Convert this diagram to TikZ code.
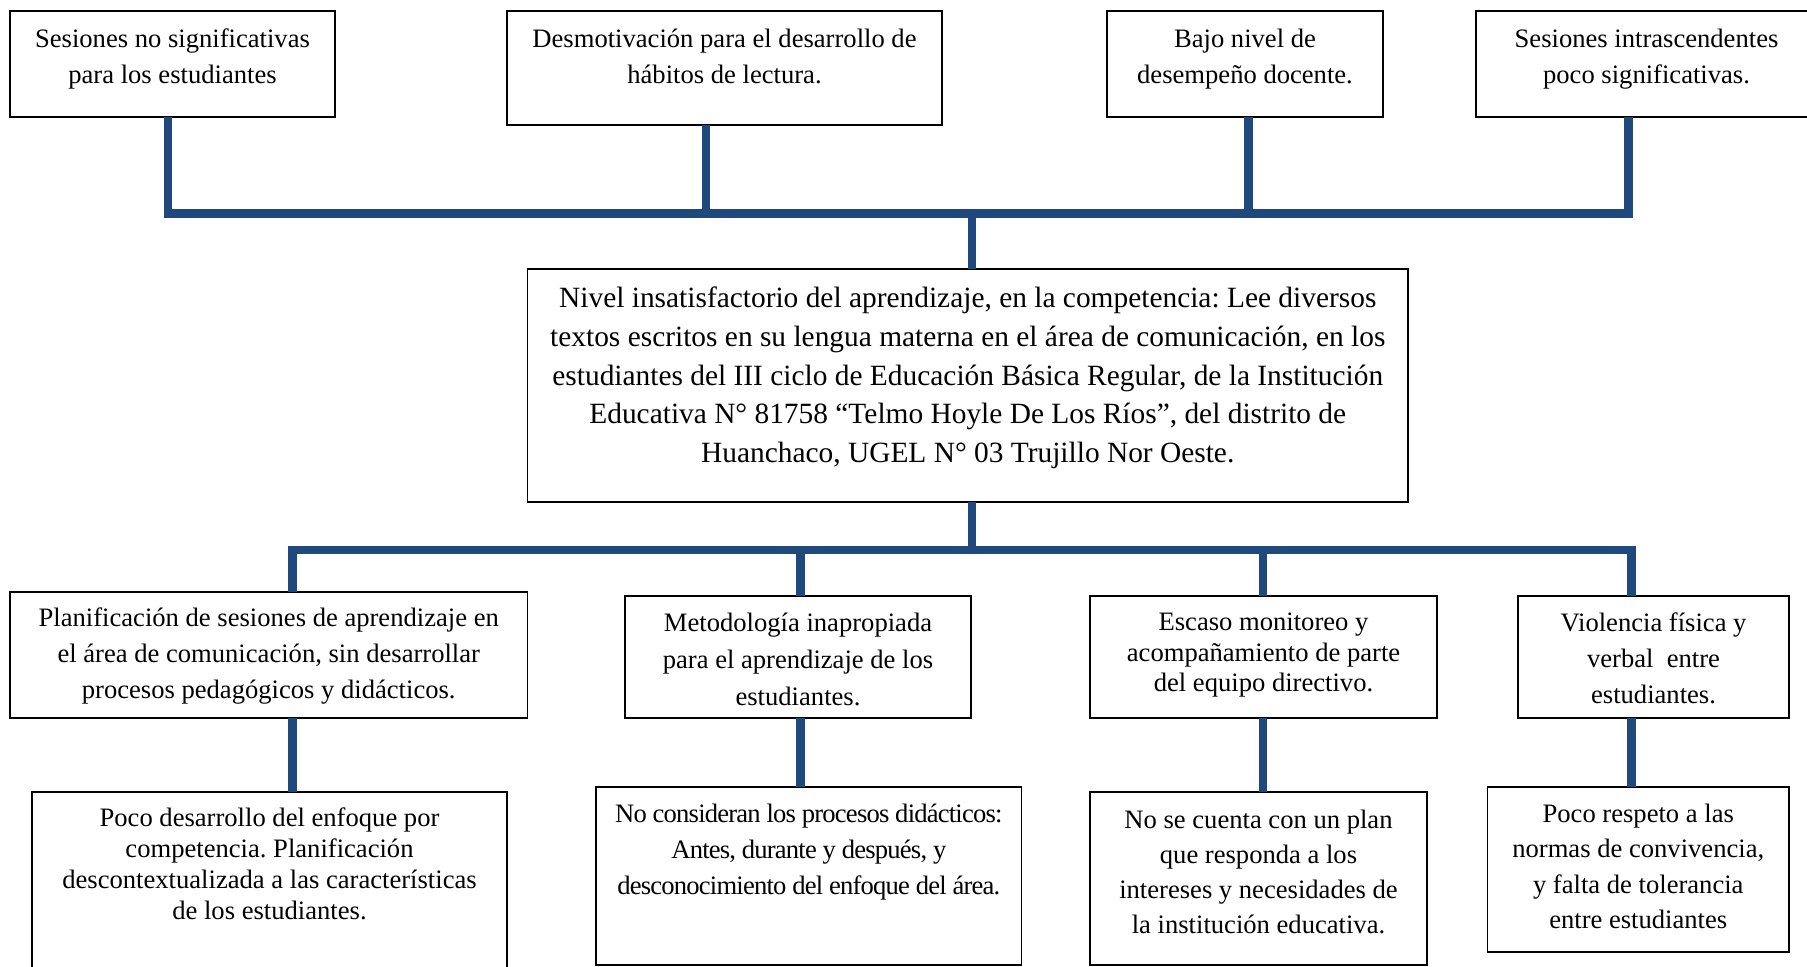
\documentclass[tikz,border=0pt]{standalone}
\usepackage{fontspec}
\setmainfont{Liberation Serif}
\definecolor{linkblue}{RGB}{31,73,125}
% #1 width, #2 height, #3 font size, #4 line spacing, #5 first baseline offset, #6 text
\newcommand\boxtxt[6]{\parbox[c][#2][t]{#1}{\frenchspacing\centering\fontsize{#3}{#4}\selectfont
  \vspace*{\dimexpr#5-\ht\strutbox\relax}\strut#6\par}}
\tikzset{
  bx/.style={draw=black, line width=0.6pt, inner sep=0pt, outer sep=0pt, anchor=north west, fill=white},
  conn/.style={draw=linkblue, line width=4.25pt, line join=miter},
}
\begin{document}
\begin{tikzpicture}[x=0.5pt, y=-0.5pt]
\useasboundingbox (0,0) rectangle (1807,967);

% top row
\node[bx] (T1) at (10,11) {\boxtxt{162.5pt}{53pt}{13.3}{18}{18.25pt}{Sesiones no significativas\\para los estudiantes}};
\node[bx] (T2) at (507,11) {\boxtxt{217.5pt}{57pt}{13.3}{18}{18.25pt}{Desmotivación para el desarrollo de\\hábitos de lectura.}};
\node[bx] (T3) at (1107,11) {\boxtxt{138pt}{53pt}{13.3}{18}{18.25pt}{Bajo nivel de\\desempeño docente.}};
\node[bx] (T4) at (1476,11) {\boxtxt{170.5pt}{53pt}{13.3}{18}{18.25pt}{Sesiones intrascendentes\\poco significativas.}};

% centre
\node[bx] (C) at (527.5,269) {\boxtxt{440.25pt}{116.5pt}{14.7}{19.4}{19.25pt}{Nivel insatisfactorio del aprendizaje, en la competencia: Lee diversos\\textos escritos en su lengua materna en el área de comunicación, en los\\estudiantes del III ciclo de Educación Básica Regular, de la Institución\\Educativa N° 81758 “Telmo Hoyle De Los Ríos”, del distrito de\\Huanchaco, UGEL N° 03 Trujillo Nor Oeste.}};

% lower row
\node[bx] (L1) at (10,592) {\boxtxt{258.75pt}{63pt}{13.3}{18}{17pt}{Planificación de sesiones de aprendizaje en\\el área de comunicación, sin desarrollar\\procesos pedagógicos y didácticos.}};
\node[bx] (L2) at (625,596) {\boxtxt{173pt}{61pt}{13.3}{18.5}{17.75pt}{Metodología inapropiada\\para el aprendizaje de los\\estudiantes.}};
\node[bx] (L3) at (1090,596) {\boxtxt{173.5pt}{61pt}{13.3}{15.35}{17.25pt}{Escaso monitoreo y\\acompañamiento de parte\\del equipo directivo.}};
\node[bx] (L4) at (1518,596) {\boxtxt{135.5pt}{61pt}{13.3}{18}{17.75pt}{Violencia física y\\verbal\ \ entre\\estudiantes.}};

% bottom row
\node[bx] (LL1) at (32,792) {\boxtxt{237.5pt}{90pt}{13.3}{15.5}{17.25pt}{Poco desarrollo del enfoque por\\competencia. Planificación\\descontextualizada a las características\\de los estudiantes.}};
\node[bx] (LL2) at (596,787) {\boxtxt{212.8pt}{89pt}{13.3}{18}{17.5pt}{\addfontfeatures{LetterSpace=-3}No consideran los procesos didácticos:\\Antes, durante y después, y\\desconocimiento del enfoque del área.}};
\node[bx] (LL3) at (1090,792) {\boxtxt{168.5pt}{86.5pt}{13.3}{17.6}{18pt}{No se cuenta con un plan\\que responda a los\\intereses y necesidades de\\la institución educativa.}};
\node[bx] (LL4) at (1487.5,787) {\boxtxt{150.75pt}{82.5pt}{13.3}{17.8}{17.5pt}{Poco respeto a las\\normas de convivencia,\\y falta de tolerancia\\entre estudiantes}};

% junction coordinates
\coordinate (j1) at (168,213.5);
\coordinate (j2) at (706,213.5);
\coordinate (j3) at (1248.5,213.5);
\coordinate (j4) at (1628.5,213.5);
\coordinate (jc) at (972,213.5);
\coordinate (kc) at (972,550);
\coordinate (k1) at (292.5,550);
\coordinate (k2) at (800.5,550);
\coordinate (k3) at (1263,550);
\coordinate (k4) at (1631.5,550);

% upper connectors
\draw[conn] (T1.south -| j1) -- (j1) -- (j4) -- (T4.south -| j4);
\draw[conn] (T2.south -| j2) -- (j2);
\draw[conn] (T3.south -| j3) -- (j3);
\draw[conn] (jc) -- (C.north -| jc);

% lower connectors
\draw[conn] (C.south -| kc) -- (kc);
\draw[conn] (L1.north -| k1) -- (k1) -- (k4) -- (L4.north -| k4);
\draw[conn] (k2) -- (L2.north -| k2);
\draw[conn] (k3) -- (L3.north -| k3);
\draw[conn] (L1.south -| k1) -- (LL1.north -| k1);
\draw[conn] (L2.south -| k2) -- (LL2.north -| k2);
\draw[conn] (L3.south -| k3) -- (LL3.north -| k3);
\draw[conn] (L4.south -| k4) -- (LL4.north -| k4);
\end{tikzpicture}
\end{document}
